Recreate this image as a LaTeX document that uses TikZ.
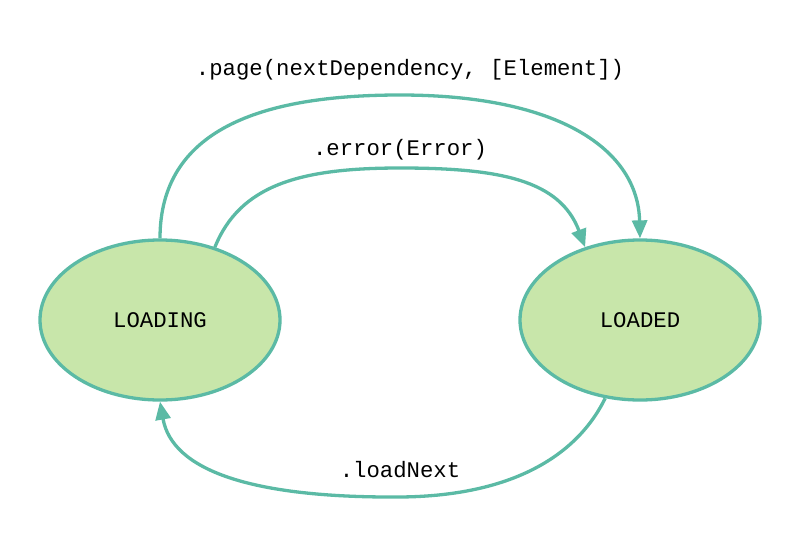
\documentclass[tikz,border=0pt]{standalone}
\usepackage{fontspec}
\setmonofont{Liberation Mono}
\usetikzlibrary{arrows.meta,shapes.geometric}
\definecolor{edgeteal}{HTML}{5BBAA5}
\definecolor{statefill}{HTML}{C8E6AA}
\tikzset{state/.style={ellipse,draw=edgeteal,fill=statefill,line width=3.3pt,
                       minimum width=240pt,minimum height=160pt,
                       font=\ttfamily\fontsize{22.3}{26}\selectfont}}
\tikzset{trans/.style={draw=edgeteal,line width=3.3pt,
                       -{Triangle[length=18pt,width=15pt]}}}
\tikzset{lbl/.style={font=\ttfamily\fontsize{22.3}{26}\selectfont}}
\begin{document}
\begin{tikzpicture}[x=1pt,y=-1pt]
        \useasboundingbox (0,0) rectangle (800,541);
        \node[state] (loading) at (160,320) {LOADING};
        \node[state] (loaded) at (640,320) {LOADED};
        % Transitions
        \draw[trans] (loading.north) .. controls (160,130) and (260,95) .. (400,95)
              .. controls (560,95) and (638,150) .. (loaded.north);
        \draw[trans] (loading.53) .. controls (240,185) and (300,168) .. (400,168)
              .. controls (500,168) and (560,180) .. (loaded.127);
        \draw[trans] (loaded.246) .. controls (580,450) and (520,496) .. (400,497)
              .. controls (250,498) and (172,470) .. (loading.south);
        % Labels
        \node[lbl] (pagelbl) at (410,70) {.page(nextDependency, [Element])};
        \node[lbl] (errorlbl) at (400,150) {.error(Error)};
        \node[lbl] (nextlbl) at (400,470) {.loadNext};
    \end{tikzpicture}
\end{document}
